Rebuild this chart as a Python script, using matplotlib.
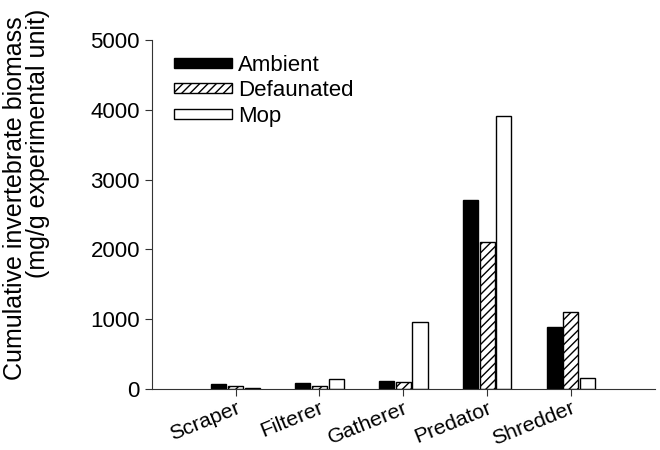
import numpy as np
import matplotlib
matplotlib.use("Agg")
import matplotlib.pyplot as plt

plt.rcParams['font.family'] = ['Liberation Sans', 'DejaVu Sans']
plt.rcParams['hatch.linewidth'] = 1.0

categories = ['Scraper', 'Filterer', 'Gatherer', 'Predator', 'Shredder']
ambient = [72, 80, 120, 2708, 890]
defaunated = [43, 47, 96, 2110, 1105]
mop = [15, 148, 960, 3910, 162]

x = np.arange(1, len(categories) + 1)
w = 0.18

fig = plt.figure(figsize=(6.6, 4.5), dpi=100)
ax = fig.add_axes([0.23, 0.1356, 0.762, 0.775])

ax.bar(x - 0.2, ambient, w, color='black', edgecolor='black', linewidth=1, label='Ambient')
ax.bar(x, defaunated, w, color='white', edgecolor='black', hatch='////', linewidth=1, label='Defaunated')
ax.bar(x + 0.2, mop, w, color='white', edgecolor='black', linewidth=1, label='Mop')

ax.set_xlim(0, 6)
ax.set_ylim(0, 5000)
ax.set_yticks([0, 1000, 2000, 3000, 4000, 5000])
ax.set_xticks(x)
ax.set_xticklabels(categories, rotation=22, ha='right', rotation_mode='anchor', fontsize=15.3)
ax.tick_params(axis='y', labelsize=16)
ax.tick_params(axis='both', length=5, color='#333333')
ax.tick_params(axis='x', pad=2)
for s in ['top', 'right']:
    ax.spines[s].set_visible(False)
for s in ['left', 'bottom']:
    ax.spines[s].set_color('#333333')

# two-line y label, lines placed separately as in the original
fig.text(15 / 660, 1 - 198 / 450, 'Cumulative invertebrate biomass', rotation=90,
         ha='center', va='center', fontsize=18)
fig.text(38 / 660, 1 - 143 / 450, '(mg/g experimental unit)', rotation=90,
         ha='center', va='center', fontsize=18)

ax.legend(loc='upper left', bbox_to_anchor=(0.004, 1.015), frameon=False, fontsize=16,
          handlelength=2.6, handleheight=0.32, labelspacing=0.2, handletextpad=0.3)

fig.savefig('out.png', dpi=100)
